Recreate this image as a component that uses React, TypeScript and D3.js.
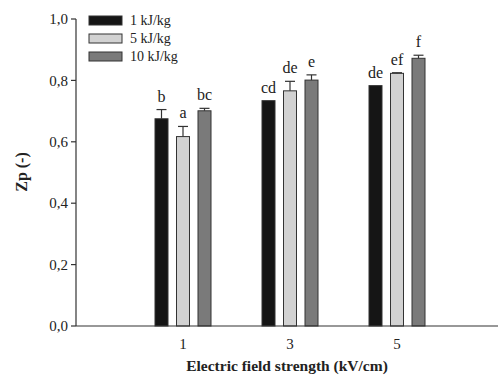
import { useEffect, useRef } from 'react';
import * as d3 from 'd3';

const fields = [1, 3, 5];
const seriesNames = ['1 kJ/kg', '5 kJ/kg', '10 kJ/kg'];
const seriesColors = ['#151515', '#d2d2d2', '#7a7a7a'];
const zpMean = [
  [0.675, 0.617, 0.701],
  [0.734, 0.766, 0.801],
  [0.783, 0.823, 0.872],
];
const zpErr = [
  [0.03, 0.033, 0.008],
  [0.0, 0.031, 0.017],
  [0.0, 0.002, 0.01],
];
const letters = [
  ['b', 'a', 'bc'],
  ['cd', 'de', 'e'],
  ['de', 'ef', 'f'],
];
const yTicks = [0, 0.2, 0.4, 0.6, 0.8, 1.0];

export default function App() {
  const svgRef = useRef<SVGSVGElement>(null);

  useEffect(() => {
    if (!svgRef.current) return;
    const svg = d3.select(svgRef.current);
    svg.selectAll('*').remove();

    const font = 'Liberation Serif, DejaVu Serif, serif';
    const x = d3.scaleLinear().domain([-1, 7]).range([76, 504]);
    const y = d3.scaleLinear().domain([0, 1]).range([326, 19]);
    const barW = 13;
    const offsets = [-21.5, 0, 21.5];

    // bars
    fields.forEach((f, gi) => {
      zpMean[gi].forEach((v, si) => {
        const cx = x(f) + offsets[si];
        svg.append('rect')
          .attr('x', cx - barW / 2)
          .attr('y', y(v))
          .attr('width', barW)
          .attr('height', y(0) - y(v))
          .attr('fill', seriesColors[si])
          .attr('stroke', '#333')
          .attr('stroke-width', 1);

        const e = zpErr[gi][si];
        if (e > 0.001) {
          svg.append('line')
            .attr('x1', cx).attr('x2', cx)
            .attr('y1', y(v)).attr('y2', y(v + e))
            .attr('stroke', '#333').attr('stroke-width', 1.2);
          svg.append('line')
            .attr('x1', cx - 5).attr('x2', cx + 5)
            .attr('y1', y(v + e)).attr('y2', y(v + e))
            .attr('stroke', '#333').attr('stroke-width', 1.2);
        }

        svg.append('text')
          .attr('x', cx)
          .attr('y', y(v + e) - 8)
          .attr('text-anchor', 'middle')
          .attr('font-family', font)
          .attr('font-size', 16)
          .attr('fill', '#222')
          .text(letters[gi][si]);
      });
    });

    // axes
    svg.append('line')
      .attr('x1', 76).attr('x2', 498)
      .attr('y1', y(0)).attr('y2', y(0))
      .attr('stroke', '#333').attr('stroke-width', 1.2);
    svg.append('line')
      .attr('x1', 76).attr('x2', 76)
      .attr('y1', y(0)).attr('y2', y(1))
      .attr('stroke', '#333').attr('stroke-width', 1.2);

    yTicks.forEach((t) => {
      svg.append('line')
        .attr('x1', 71).attr('x2', 76)
        .attr('y1', y(t)).attr('y2', y(t))
        .attr('stroke', '#333').attr('stroke-width', 1.2);
      svg.append('text')
        .attr('x', 68)
        .attr('y', y(t))
        .attr('dy', '0.35em')
        .attr('text-anchor', 'end')
        .attr('font-family', font)
        .attr('font-size', 15)
        .attr('fill', '#222')
        .text(d3.format('.1f')(t).replace('.', ','));
    });

    fields.forEach((f) => {
      svg.append('text')
        .attr('x', x(f))
        .attr('y', 349)
        .attr('text-anchor', 'middle')
        .attr('font-family', font)
        .attr('font-size', 15)
        .attr('fill', '#222')
        .text(f);
    });

    // axis titles
    svg.append('text')
      .attr('x', 287)
      .attr('y', 371)
      .attr('text-anchor', 'middle')
      .attr('font-family', font)
      .attr('font-size', 15.5)
      .attr('font-weight', 700)
      .attr('fill', '#222')
      .text('Electric field strength (kV/cm)');

    svg.append('text')
      .attr('transform', 'translate(27, 172) rotate(-90)')
      .attr('text-anchor', 'middle')
      .attr('font-family', font)
      .attr('font-size', 16)
      .attr('font-weight', 700)
      .attr('fill', '#222')
      .text('Zp (-)');

    // legend
    seriesNames.forEach((name, i) => {
      const ly = 16 + i * 18;
      svg.append('rect')
        .attr('x', 89).attr('y', ly)
        .attr('width', 33).attr('height', 9)
        .attr('fill', seriesColors[i])
        .attr('stroke', '#333').attr('stroke-width', 1);
      svg.append('text')
        .attr('x', 130).attr('y', ly + 4.5)
        .attr('dy', '0.35em')
        .attr('font-family', font)
        .attr('font-size', 14)
        .attr('fill', '#222')
        .text(name);
    });
  }, []);

  return (
    <svg
      ref={svgRef}
      width={498}
      height={375}
      style={{ position: 'absolute', left: 0, top: 0, background: '#fff' }}
    />
  );
}
